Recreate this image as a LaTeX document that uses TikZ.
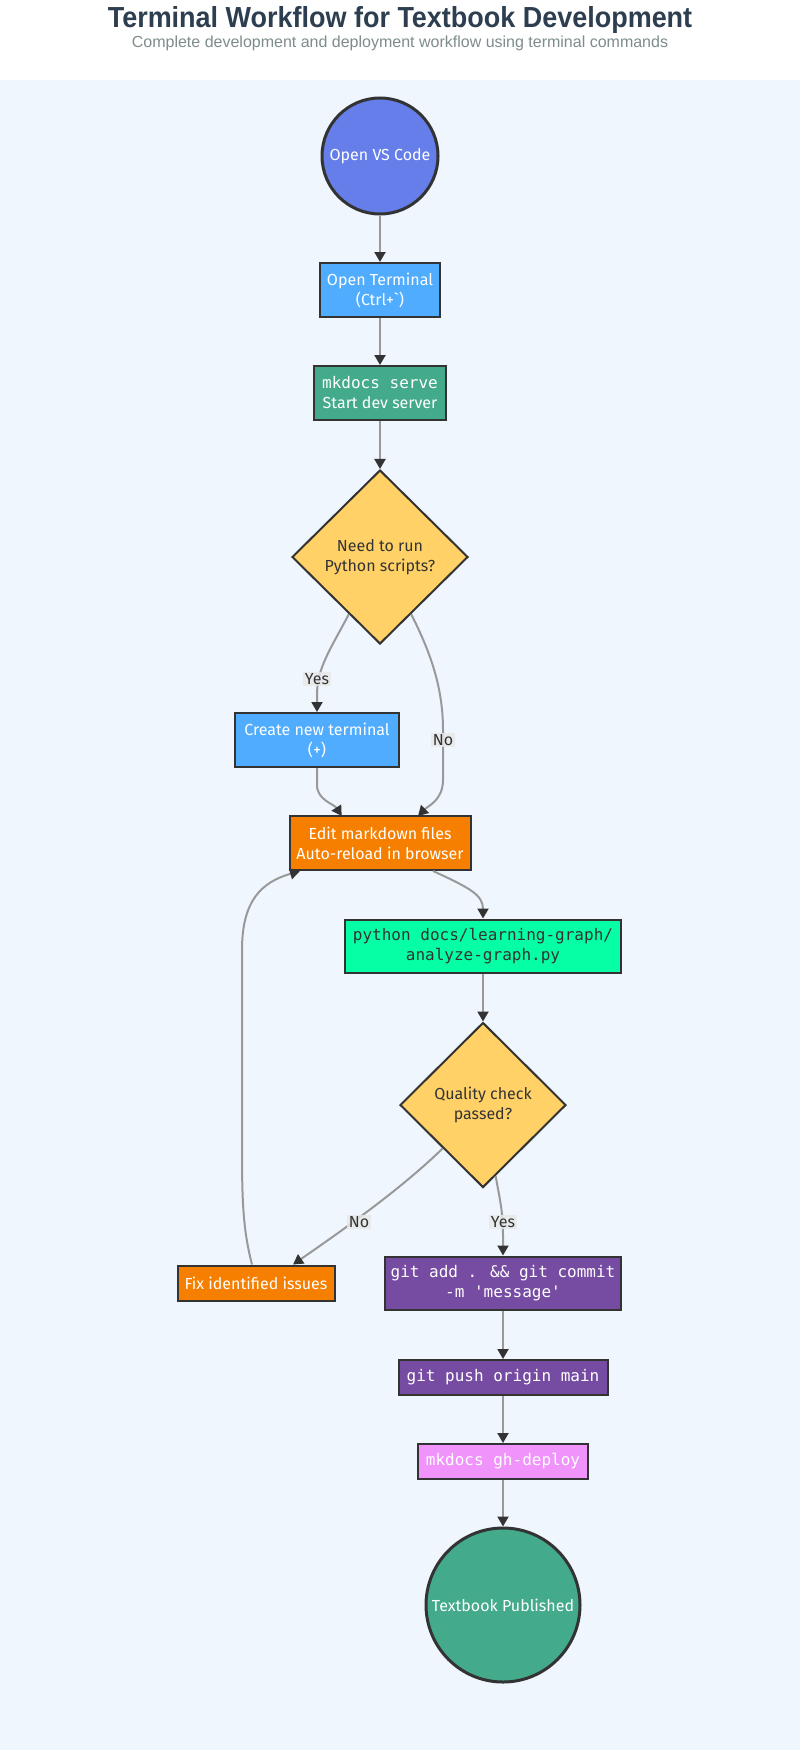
\documentclass[tikz,border=0pt]{standalone}
\usepackage{fontspec}
\setmainfont{Fira Sans}
\newfontfamily\titlefont{Liberation Sans}
\newfontfamily\codefont{DejaVu Sans Mono}
\usetikzlibrary{shapes.geometric,arrows.meta,calc}
\definecolor{bgblue}{HTML}{EFF6FE}
\definecolor{titlec}{HTML}{2C3E50}
\definecolor{subc}{HTML}{7F8C8D}
\definecolor{dark}{HTML}{333333}
\definecolor{edgec}{HTML}{999999}
\definecolor{cvs}{HTML}{667EEA}
\definecolor{cblue}{HTML}{4FACFE}
\definecolor{cgreen}{HTML}{43AA8B}
\definecolor{cyellow}{HTML}{FFD166}
\definecolor{corange}{HTML}{F77F00}
\definecolor{cmint}{HTML}{06FFA5}
\definecolor{cpurple}{HTML}{764BA2}
\definecolor{cpink}{HTML}{F093FB}
\definecolor{lblbg}{HTML}{E8E8E8}
\tikzset{
  txt/.style={font=\fontsize{16}{20}\selectfont, align=center},
  circnode/.style={txt, circle, draw=dark, line width=3pt, inner sep=0pt, text=white},
  boxnode/.style={txt, rectangle, draw=dark, line width=2pt, inner sep=0pt, text=white},
  decnode/.style={txt, diamond, draw=dark, line width=2pt, inner sep=0pt, aspect=1, fill=cyellow, text=dark},
  edge/.style={draw=edgec, line width=2pt, -{Triangle[length=10pt,width=11pt,color=dark]}},
  lbl/.style={font=\fontsize{16}{20}\selectfont, fill=lblbg, fill opacity=0.85, text opacity=1, text=dark, inner sep=1.5pt}
}
\begin{document}
\begin{tikzpicture}[x=1pt,y=-1pt]
\fill[white] (0,0) rectangle (800,80);
\fill[bgblue] (0,80) rectangle (800,1750);
\useasboundingbox (0,0) rectangle (800,1750);

\node[anchor=base, text=titlec] (title) at (400,28) {\scalebox{0.93}[1]{\titlefont\bfseries\fontsize{29}{32}\selectfont Terminal Workflow for Textbook Development}};
\node[anchor=base, text=subc] (subtitle) at (400,48) {\titlefont\fontsize{16}{18}\selectfont Complete development and deployment workflow using terminal commands};

\node[circnode, fill=cvs, minimum size=116pt] (vs) at (380,156) {Open VS Code};
\node[boxnode, fill=cblue, minimum width=120pt, minimum height=54pt] (term) at (380,290) {Open Terminal\\(Ctrl+\textasciigrave)};
\node[boxnode, fill=cgreen, minimum width=132pt, minimum height=54pt] (serve) at (380,393) {{\codefont mkdocs serve}\\Start dev server};
\node[decnode, minimum width=176pt, minimum height=174pt] (need) at (380,557) {Need to run\\Python scripts?};
\node[boxnode, fill=cblue, minimum width=164pt, minimum height=54pt] (newterm) at (317,740) {Create new terminal\\(+)};
\node[boxnode, fill=corange, minimum width=181pt, minimum height=54pt] (edit) at (380,843) {Edit markdown files\\Auto-reload in browser};
\node[boxnode, fill=cmint, text=dark, minimum width=276pt, minimum height=53pt, font=\codefont\fontsize{16}{20}\selectfont] (py) at (483,946) {python docs/learning-graph/\\analyze-graph.py};
\node[decnode, minimum width=166pt, minimum height=165pt] (qc) at (483,1105) {Quality check\\passed?};
\node[boxnode, fill=corange, minimum width=157pt, minimum height=35pt] (fix) at (256,1283) {Fix identified issues};
\node[boxnode, fill=cpurple, minimum width=236pt, minimum height=53pt, font=\codefont\fontsize{16}{20}\selectfont] (commit) at (503,1283) {git add . \&\& git commit\\-m \textquotesingle message\textquotesingle};
\node[boxnode, fill=cpurple, minimum width=209pt, minimum height=35pt, font=\codefont\fontsize{16}{20}\selectfont] (push) at (503,1377.5) {git push origin main};
\node[boxnode, fill=cpink, minimum width=170pt, minimum height=35pt, font=\codefont\fontsize{16}{20}\selectfont] (deploy) at (503,1461.5) {mkdocs gh-deploy};
\node[circnode, fill=cgreen, minimum size=154pt] (pub) at (503,1605) {Textbook Published};

\draw[edge] (vs) -- (term);
\draw[edge] (term) -- (serve);
\draw[edge] (serve) -- (need);
\draw[edge] ($(need.west)!0.65!(need.south)$) .. controls (330,650) and (317,668) .. (317,695) -- (newterm.north);
\draw[edge] ($(need.east)!0.65!(need.south)$) .. controls (432,655) and (443,690) .. (443,730) -- (443,780) .. controls (443,800) and (428,806) .. (418,816);
\draw[edge] (newterm.south) -- (317,785) .. controls (317,800) and (334,804) .. (341.7,816);
\draw[edge] ([xshift=53pt]edit.south) .. controls (470,888) and (483,895) .. (py.north);
\draw[edge] (py) -- (qc);
\draw[edge] ([xshift=-4pt]fix.north) .. controls (243,1230) and (242,1200) .. (242,1150) -- (242,950) .. controls (242,900) and (262,882) .. ([xshift=-80pt]edit.south);
\draw[edge] ($(qc.west)!0.52!(qc.south)$) .. controls (400,1190) and (340,1232) .. ([xshift=37pt]fix.north);
\draw[edge] ($(qc.east)!0.85!(qc.south)$) .. controls (500,1200) and (503,1212) .. (503,1235) -- (commit.north);
\draw[edge] (commit) -- (push);
\draw[edge] (push) -- (deploy);
\draw[edge] (deploy) -- (pub);

\node[lbl] (yes1) at (317,679) {Yes};
\node[lbl] (no1) at (443,740) {No};
\node[lbl] (no2) at (359,1222) {No};
\node[lbl] (yes2) at (503,1222) {Yes};
\end{tikzpicture}
\end{document}
